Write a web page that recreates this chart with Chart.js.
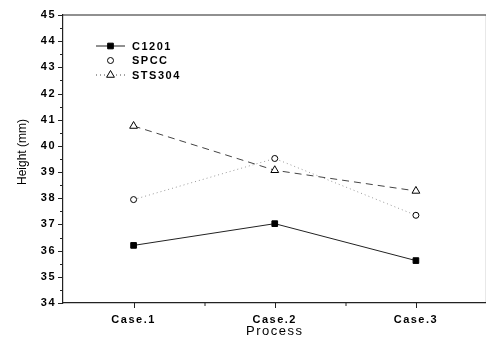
<!DOCTYPE html>
<html>
<head>
<meta charset="utf-8">
<script src="https://cdn.jsdelivr.net/npm/chart.js@4.4.0/dist/chart.umd.min.js"></script>
<style>
  html, body { margin: 0; padding: 0; background: #fff; overflow: hidden; }
  #wrap { width: 492px; height: 345px; }
</style>
</head>
<body>
<div id="wrap"><canvas id="chart" width="492" height="345"></canvas></div>
<script>
const cases = ["Case.1", "Case.2", "Case.3"];
const c1201 = [36.2, 37.03, 35.62];
const spcc = [37.95, 39.52, 37.35];
const sts304 = [40.76, 39.07, 38.28];
const yTitle = "Height (mm)";

const FONT = "Arial, 'Liberation Sans', sans-serif";

// wide letter spacing like the scanned original
const spacing = {
  id: "spacing",
  beforeLayout(chart) { chart.ctx.letterSpacing = "1.5px"; },
  beforeDraw(chart) { chart.ctx.letterSpacing = "1.5px"; },
};

// axis ticks (major + minor), top frame line, y title
const frameTicks = {
  id: "frameTicks",
  afterDraw(chart) {
    const { ctx, chartArea: { top, bottom, left, right }, scales: { x, y } } = chart;
    ctx.save();
    ctx.strokeStyle = "#222";
    ctx.lineWidth = 1.2;
    ctx.beginPath();
    ctx.moveTo(left, top);
    ctx.lineTo(right, top);
    ctx.moveTo(right, top);
    ctx.lineTo(right, bottom);
    ctx.stroke();

    ctx.lineWidth = 1;
    ctx.beginPath();
    for (let v = 34; v <= 45; v += 0.5) {
      const py = Math.round(y.getPixelForValue(v)) + 0.5;
      const len = Number.isInteger(v) ? 5 : 3;
      ctx.moveTo(left, py);
      ctx.lineTo(left - len, py);
    }
    const step = x.getPixelForValue(1) - x.getPixelForValue(0);
    cases.forEach((c, i) => {
      const px = Math.round(x.getPixelForValue(i)) + 0.5;
      ctx.moveTo(px, bottom);
      ctx.lineTo(px, bottom + 5);
      if (i < cases.length - 1) {
        const mx = Math.round(px + step / 2);
        ctx.moveTo(mx, bottom);
        ctx.lineTo(mx, bottom + 3);
      }
    });
    ctx.stroke();

    // y title, a bit above the middle as in the original
    ctx.letterSpacing = "0px";
    ctx.translate(23, 152);
    ctx.rotate(-Math.PI / 2);
    ctx.fillStyle = "#000";
    ctx.font = "12px " + FONT;
    ctx.textAlign = "center";
    ctx.textBaseline = "middle";
    ctx.fillText(yTitle, 0, 0);
    ctx.restore();
  },
};

// legend inside the plot, drawn from the datasets
const innerLegend = {
  id: "innerLegend",
  afterDatasetsDraw(chart) {
    const { ctx } = chart;
    const x0 = 96, x1 = 125, tx = 132;
    const rows = [46, 60.5, 75];
    chart.data.datasets.forEach((ds, i) => {
      const yy = rows[i];
      ctx.save();
      if (ds.legendLine) {
        ctx.strokeStyle = ds.borderColor;
        ctx.lineWidth = ds.borderWidth;
        ctx.setLineDash(ds.legendDash || []);
        ctx.beginPath();
        ctx.moveTo(x0, yy);
        ctx.lineTo(x1, yy);
        ctx.stroke();
      }
      ctx.setLineDash([]);
      ctx.fillStyle = ds.pointBackgroundColor;
      ctx.strokeStyle = ds.pointBorderColor;
      ctx.lineWidth = ds.pointBorderWidth;
      Chart.helpers.drawPoint(ctx, {
        pointStyle: ds.pointStyle,
        radius: ds.pointRadius,
        borderWidth: ds.pointBorderWidth,
      }, (x0 + x1) / 2, yy);
      ctx.fillStyle = "#000";
      ctx.font = "bold 11px " + FONT;
      ctx.textBaseline = "middle";
      ctx.fillText(ds.label, tx, yy + 0.5);
      ctx.restore();
    });
  },
};

const cfg = {
  type: "line",
  data: {
    labels: cases,
    datasets: [
      {
        label: "C1201",
        data: c1201,
        borderColor: "#222",
        borderWidth: 1,
        pointStyle: "rect",
        pointRadius: 4,
        pointBackgroundColor: "#000",
        pointBorderColor: "#000",
        pointBorderWidth: 1,
        legendLine: true,
      },
      {
        label: "SPCC",
        data: spcc,
        borderColor: "#999",
        borderWidth: 1,
        borderDash: [1, 3],
        pointStyle: "circle",
        pointRadius: 3,
        pointBackgroundColor: "#fff",
        pointBorderColor: "#000",
        pointBorderWidth: 1,
        legendLine: false,
      },
      {
        label: "STS304",
        data: sts304,
        borderColor: "#444",
        borderWidth: 1,
        borderDash: [7, 5],
        pointStyle: "triangle",
        pointRadius: 4.5,
        pointBackgroundColor: "#fff",
        pointBorderColor: "#000",
        pointBorderWidth: 1,
        legendLine: true,
        legendDash: [1, 3],
      },
    ],
  },
  options: {
    responsive: false,
    animation: false,
    layout: { padding: { top: 15, right: 2, left: 0, bottom: 0 } },
    plugins: { legend: { display: false }, tooltip: { enabled: false } },
    scales: {
      x: {
        type: "category",
        offset: true,
        grid: { display: true, drawOnChartArea: false, drawTicks: false },
        border: { display: true, color: "#222", width: 1.2 },
        ticks: { color: "#000", padding: 10, font: { family: FONT, size: 11, weight: "bold" }, maxRotation: 0 },
        title: { display: true, text: "Process", color: "#000", font: { family: FONT, size: 13 }, padding: { top: 0, bottom: 6 } },
        afterFit(scale) { scale.height = 42; },
      },
      y: {
        min: 34,
        max: 45,
        grid: { display: true, drawOnChartArea: false, drawTicks: false },
        border: { display: true, color: "#222", width: 1.2 },
        ticks: { stepSize: 1, color: "#000", padding: 7, font: { family: FONT, size: 11, weight: "bold" } },
        title: { display: false },
        afterFit(scale) { scale.width = 63; },
      },
    },
  },
  plugins: [spacing, frameTicks, innerLegend],
};

new Chart(document.getElementById("chart"), cfg);
</script>
</body>
</html>
